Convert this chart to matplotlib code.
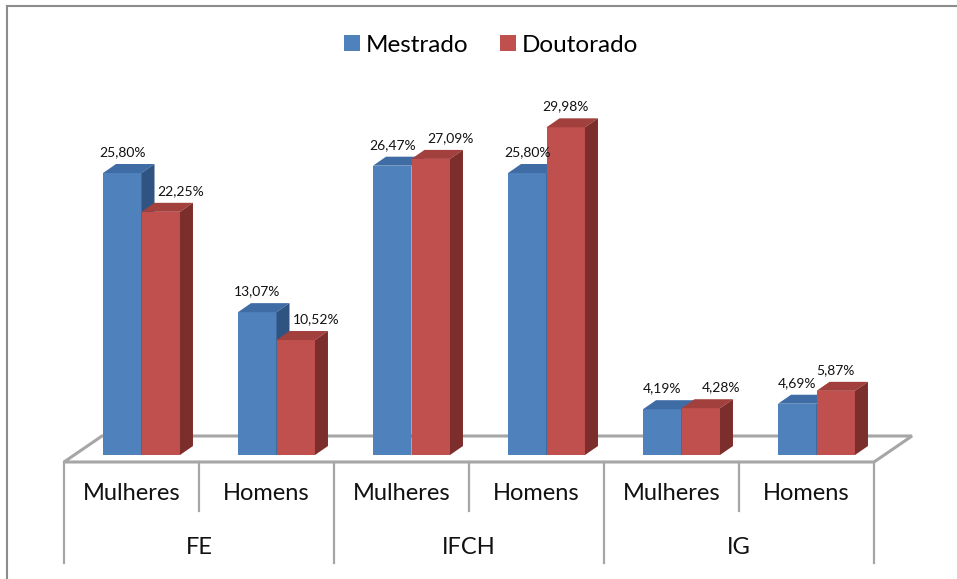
import matplotlib
matplotlib.use('Agg')
import matplotlib.pyplot as plt
import matplotlib.transforms as mtransforms
from matplotlib.patches import Polygon, Patch
from matplotlib.lines import Line2D

plt.rcParams['font.family'] = ['Lato', 'DejaVu Sans']

# Dados
grupos = ['FE', 'IFCH', 'IG']
subcategorias = ['Mulheres', 'Homens', 'Mulheres', 'Homens', 'Mulheres', 'Homens']
mestrado = [25.80, 13.07, 26.47, 25.80, 4.19, 4.69]
doutorado = [22.25, 10.52, 27.09, 29.98, 4.28, 5.87]
series = ['Mestrado', 'Doutorado']

# Cores (frente, topo, lado)
cores = {
    'Mestrado': ('#4f81bd', '#3f6ca4', '#2f5482'),
    'Doutorado': ('#c0504d', '#a2403d', '#7c2e2c'),
}
cinza = '#a6a6a6'

W, H = 957, 579
fig = plt.figure(figsize=(W / 100, H / 100), dpi=100)
ax = fig.add_axes([64 / W, (H - 455) / H, 810 / W, 35 * 10.93 / H])
ax.set_xlim(-0.5, 5.5)
ax.set_ylim(0, 35)
ax.axis('off')

# profundidade das barras e do piso, em pixels
bdx, bdy = 13, 9
fdx, fdy = 38, 26
desloc = 10  # barras ficam no meio do piso
ident = mtransforms.IdentityTransform()

def px(x, y):
    return ax.transData.transform((x, y))

# piso
fl = px(-0.5, 0) + [0, -7]
fr = px(5.5, 0) + [0, -7]
ax.add_patch(Polygon([fl, fr, fr + [fdx, fdy], fl + [fdx, fdy]], closed=True,
                     facecolor='white', edgecolor=cinza, lw=2.2,
                     transform=ident, zorder=1, clip_on=False))

# linhas da tabela de categorias
trans_fig = mtransforms.blended_transform_factory(ax.transData, fig.transFigure)
y_front = fl[1] / H
for xs in [-0.5, 1.5, 3.5, 5.5]:
    ax.add_line(Line2D([xs, xs], [y_front, 1 - 563 / H], transform=trans_fig,
                       color=cinza, lw=1.6, clip_on=False))
for xs in [0.5, 2.5, 4.5]:
    ax.add_line(Line2D([xs, xs], [y_front, 1 - 511 / H], transform=trans_fig,
                       color=cinza, lw=1.6, clip_on=False))

for i, s in enumerate(subcategorias):
    ax.text(i, 1 - 494 / H, s, transform=trans_fig, ha='center', va='center',
            fontsize=17, color='#111111')
for g, nome in enumerate(grupos):
    ax.text(2 * g + 0.5, 1 - 547 / H, nome, transform=trans_fig, ha='center',
            va='center', fontsize=17, color='#111111')

# barras
w = 0.285
x = list(range(len(subcategorias)))
shift = mtransforms.ScaledTranslation(desloc / 100, 0, fig.dpi_scale_trans)

for k, (nome, vals) in enumerate([('Mestrado', mestrado), ('Doutorado', doutorado)]):
    frente, topo, lado = cores[nome]
    xpos = [xi + (k - 0.5) * w for xi in x]
    barras = ax.bar(xpos, vals, width=w, color=frente, zorder=2 + k, clip_on=False)
    for j, b in enumerate(barras):
        b.set_transform(ax.transData + shift)
        x0, x1, h = b.get_x(), b.get_x() + b.get_width(), b.get_height()
        p10 = px(x1, 0) + [desloc, 0]
        p0h = px(x0, h) + [desloc, 0]
        p1h = px(x1, h) + [desloc, 0]
        d = [bdx, bdy]
        ax.add_patch(Polygon([p0h, p1h, p1h + d, p0h + d], facecolor=topo,
                             edgecolor='none', transform=ident, zorder=2 + k,
                             clip_on=False))
        ax.add_patch(Polygon([p10, p1h, p1h + d, p10 + d], facecolor=lado,
                             edgecolor='none', transform=ident, zorder=2 + k,
                             clip_on=False))
        # rótulo
        dx = 0
        if k == 1 and doutorado[j] <= mestrado[j] + 1:
            dx = 20
        ax.annotate(f'{vals[j]:.2f}%'.replace('.', ','), xy=(xpos[j], h),
                    xytext=(desloc + dx, 21), textcoords='offset pixels',
                    ha='center', va='center', fontsize=10, color='#111111',
                    zorder=5)

# legenda
handles = [Patch(facecolor=cores[s][0], edgecolor='none') for s in series]
fig.legend(handles, series, loc='center', bbox_to_anchor=(491 / W, 1 - 45 / H),
           ncol=2, frameon=False, fontsize=17.5, handlelength=0.65,
           handleheight=0.65, handletextpad=0.25, columnspacing=1.3)

# moldura
fig.add_artist(Line2D([7 / W, 7 / W], [0, 1 - 6 / H], color='#8c8c8c', lw=1.5))
fig.add_artist(Line2D([7 / W, 1], [1 - 6 / H, 1 - 6 / H], color='#8c8c8c', lw=1.5))

fig.savefig('out.png', dpi=100)
